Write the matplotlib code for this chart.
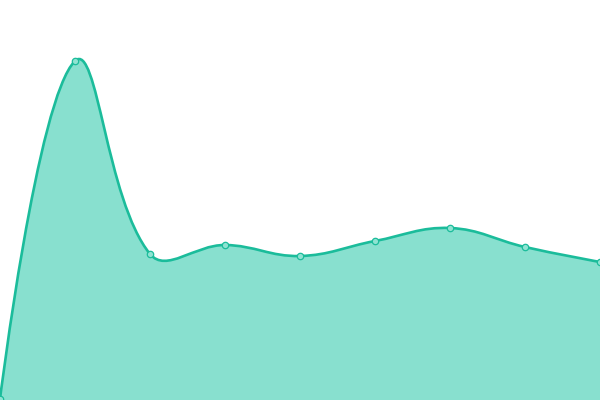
import matplotlib

matplotlib.use("Agg")

import matplotlib.pyplot as plt
import numpy as np
from matplotlib.patches import PathPatch
from matplotlib.path import Path

# ---------- Data ----------
categories = ["A", "B", "C", "D", "E", "F", "G", "H", "I"]
values = [1, 339, 146, 155, 144, 159, 172, 153, 138]

LINE = "#1bbc9b"
AREA = "#88e0cf"
Y_MAX = 400


def smooth_controls(px, py, smooth=0.4):
    """Bezier control points like a 'smooth' line chart (computed in pixel space)."""
    n = len(px)
    cps = []
    for i in range(n):
        x, y = px[i], py[i]
        if i == 0 or i == n - 1:
            cps.append(((x, y), (x, y)))
            continue
        vx, vy = px[i + 1] - px[i - 1], py[i + 1] - py[i - 1]
        d0 = np.hypot(x - px[i - 1], y - py[i - 1])
        d1 = np.hypot(px[i + 1] - x, py[i + 1] - y)
        r = d1 / (d0 + d1)
        before = (x - vx * smooth * (1 - r), y - vy * smooth * (1 - r))
        after = (x + vx * smooth * r, y + vy * smooth * r)
        cps.append((before, after))
    return cps


fig = plt.figure(figsize=(6, 4), dpi=100)
ax = fig.add_axes([0, 0, 1, 1])
ax.set_xlim(0, len(categories) - 1)
ax.set_ylim(0, Y_MAX)
ax.axis("off")

# pixel scale factors so smoothing distances match the rendered chart
sx = 600 / (len(categories) - 1)
sy = 400 / Y_MAX
xs = np.arange(len(categories), dtype=float)
ys = np.asarray(values, dtype=float)
cps = smooth_controls(xs * sx, ys * sy)

verts = [(xs[0], ys[0])]
codes = [Path.MOVETO]
for i in range(1, len(xs)):
    c1 = cps[i - 1][1]
    c2 = cps[i][0]
    verts += [(c1[0] / sx, c1[1] / sy), (c2[0] / sx, c2[1] / sy), (xs[i], ys[i])]
    codes += [Path.CURVE4] * 3

area_verts = verts + [(xs[-1], 0), (xs[0], 0), (xs[0], ys[0])]
area_codes = codes + [Path.LINETO, Path.LINETO, Path.CLOSEPOLY]

ax.add_patch(PathPatch(Path(area_verts, area_codes), facecolor=AREA, edgecolor="none"))
ax.add_patch(PathPatch(Path(verts, codes), facecolor="none", edgecolor=LINE, lw=1.9,
                       capstyle="round", joinstyle="round"))
ax.plot(xs, ys, "o", ms=4.6, mfc="#8fe3d2", mec=LINE, mew=0.9, zorder=5)

fig.savefig("out.png", dpi=100)
